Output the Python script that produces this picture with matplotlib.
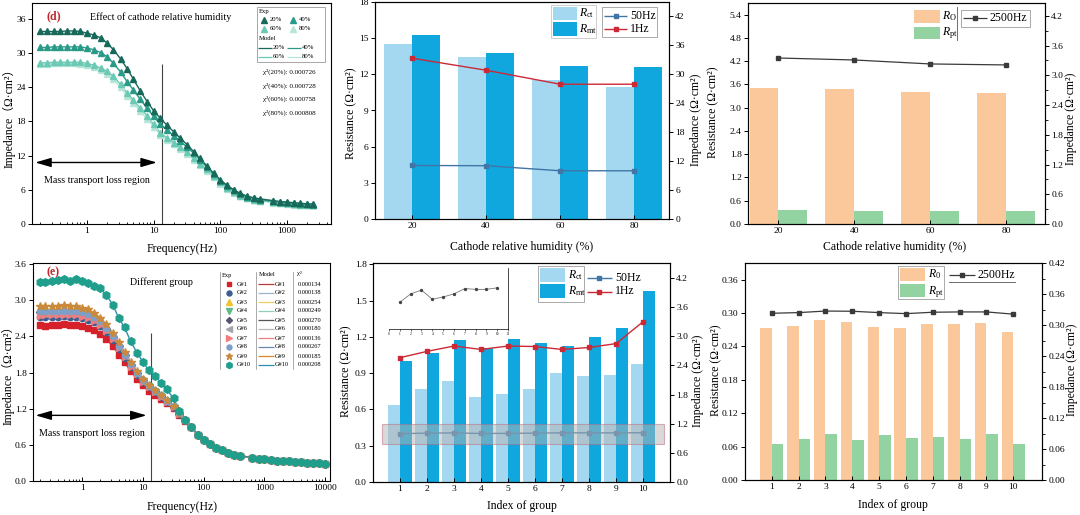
import numpy as np
import matplotlib
matplotlib.use('Agg')
import matplotlib.pyplot as plt
from matplotlib.patches import Rectangle
from matplotlib.ticker import MultipleLocator, FormatStrFormatter, LogLocator, NullFormatter

plt.rcParams['font.family'] = ['Liberation Serif', 'Noto Sans CJK SC']
plt.rcParams['mathtext.fontset'] = 'custom'
plt.rcParams['mathtext.rm'] = 'Liberation Serif'
plt.rcParams['mathtext.it'] = 'Liberation Serif:italic'
plt.rcParams['axes.linewidth'] = 0.8

# ---------------- data: panel (d) ----------------
freq_d = [0.2, 0.25, 0.32, 0.4, 0.5, 0.63, 0.8, 1.0, 1.26, 1.6, 2.0, 2.5, 3.2, 4.0, 5.0, 6.3, 8.0,
          10, 12.6, 16, 20, 25, 32, 40, 50, 63, 80, 100, 126, 160, 200, 250, 320, 400, 630, 800,
          1000, 1260, 1600, 2000, 2500]
rh_labels = ['20%', '40%', '60%', '80%']
Zd_20 = [33.8, 33.8, 33.8, 33.8, 33.9, 33.9, 33.8, 33.5, 33.2, 32.7, 31.8, 30.6, 29.0, 27.3, 25.4, 23.4, 21.5,
         19.9, 18.6, 17.3, 16.2, 15.1, 13.9, 12.7, 11.5, 10.2, 8.9, 7.8, 6.8, 6.0, 5.4, 4.9, 4.6, 4.4, 4.1, 3.95,
         3.85, 3.75, 3.65, 3.55, 3.5]
Zd_40 = [31.0, 31.0, 31.1, 31.1, 31.1, 31.1, 31.1, 30.9, 30.6, 30.1, 29.4, 28.2, 26.7, 25.0, 23.5, 21.9, 20.3,
         18.9, 17.5, 16.5, 15.5, 14.5, 13.5, 12.4, 11.2, 10.0, 8.7, 7.6, 6.7, 5.9, 5.3, 4.8, 4.5, 4.3, 4.0, 3.85,
         3.75, 3.6, 3.5, 3.45, 3.4]
Zd_60 = [28.3, 28.3, 28.4, 28.4, 28.4, 28.4, 28.4, 28.2, 27.9, 27.4, 26.8, 25.9, 24.5, 23.0, 21.7, 20.3, 19.0,
         17.5, 16.0, 15.1, 14.3, 13.5, 12.6, 11.6, 10.6, 9.6, 8.4, 7.3, 6.4, 5.6, 5.0, 4.6, 4.3, 4.1, 3.85, 3.7,
         3.6, 3.5, 3.4, 3.35, 3.3]
Zd_80 = [28.1, 28.1, 28.2, 28.2, 28.2, 28.2, 28.1, 27.9, 27.6, 27.0, 26.3, 25.4, 24.0, 22.5, 21.2, 19.8, 18.5,
         17.1, 15.7, 14.8, 14.0, 13.2, 12.3, 11.3, 10.4, 9.3, 8.2, 7.1, 6.2, 5.5, 4.9, 4.5, 4.2, 4.0, 3.75, 3.6,
         3.5, 3.4, 3.35, 3.3, 3.25]
chi2_d = ['0.000726', '0.000728', '0.000758', '0.000808']

# ---------------- data: panel (e) ----------------
freq_e = [0.2, 0.25, 0.32, 0.4, 0.5, 0.63, 0.8, 1.0, 1.26, 1.6, 2.0, 2.5, 3.2, 4.0, 5.0, 6.3, 8.0,
          10, 12.6, 16, 20, 25, 32, 40, 50, 63, 80, 100, 126, 160, 200, 250, 320, 400, 630, 800,
          1000, 1260, 1600, 2000, 2500, 3200, 4000, 5000, 6300, 8000, 10000]
group_labels = ['G#1', 'G#2', 'G#3', 'G#4', 'G#5', 'G#6', 'G#7', 'G#8', 'G#9', 'G#10']
chi2_e = ['0.000134', '0.000138', '0.000254', '0.000249', '0.000270', '0.000180', '0.000136',
          '0.000267', '0.000185', '0.000208']
# values read where the ten curves coincide (f > 50 Hz)
Ze_tail = [0.89, 0.77, 0.68, 0.61, 0.55, 0.51, 0.47, 0.44, 0.42, 0.385, 0.37,
           0.36, 0.35, 0.34, 0.33, 0.325, 0.315, 0.31, 0.305, 0.30, 0.295, 0.29]
Ze_head = [
    [2.59, 2.58, 2.59, 2.59, 2.60, 2.59, 2.59, 2.58, 2.54, 2.50, 2.44, 2.36, 2.24, 2.10, 1.97, 1.83, 1.70, 1.59, 1.50, 1.43, 1.36, 1.29, 1.21, 1.10, 1.00],
    [2.72, 2.73, 2.73, 2.73, 2.74, 2.73, 2.73, 2.71, 2.68, 2.64, 2.57, 2.47, 2.34, 2.19, 2.04, 1.89, 1.76, 1.64, 1.56, 1.48, 1.40, 1.32, 1.23, 1.12, 1.01],
    [2.85, 2.86, 2.86, 2.86, 2.87, 2.86, 2.86, 2.84, 2.81, 2.76, 2.68, 2.57, 2.43, 2.27, 2.11, 1.95, 1.80, 1.68, 1.58, 1.50, 1.42, 1.33, 1.24, 1.13, 1.01],
    [2.78, 2.79, 2.79, 2.79, 2.80, 2.79, 2.79, 2.77, 2.74, 2.69, 2.62, 2.51, 2.38, 2.23, 2.08, 1.92, 1.78, 1.66, 1.57, 1.49, 1.41, 1.33, 1.23, 1.12, 1.01],
    [2.80, 2.80, 2.81, 2.81, 2.81, 2.81, 2.80, 2.78, 2.75, 2.70, 2.63, 2.52, 2.39, 2.24, 2.09, 1.93, 1.79, 1.67, 1.57, 1.49, 1.41, 1.33, 1.23, 1.12, 1.01],
    [2.76, 2.77, 2.77, 2.77, 2.78, 2.77, 2.77, 2.75, 2.72, 2.67, 2.60, 2.50, 2.37, 2.22, 2.07, 1.91, 1.77, 1.65, 1.56, 1.48, 1.40, 1.32, 1.23, 1.12, 1.01],
    [2.74, 2.75, 2.75, 2.75, 2.76, 2.75, 2.75, 2.73, 2.70, 2.66, 2.59, 2.49, 2.36, 2.21, 2.06, 1.90, 1.77, 1.65, 1.56, 1.48, 1.40, 1.32, 1.23, 1.12, 1.01],
    [2.82, 2.82, 2.82, 2.83, 2.83, 2.83, 2.82, 2.80, 2.77, 2.72, 2.65, 2.54, 2.41, 2.25, 2.10, 1.94, 1.80, 1.68, 1.58, 1.50, 1.42, 1.33, 1.24, 1.13, 1.01],
    [2.90, 2.91, 2.91, 2.91, 2.92, 2.91, 2.90, 2.88, 2.85, 2.79, 2.71, 2.60, 2.46, 2.30, 2.14, 1.97, 1.82, 1.70, 1.60, 1.51, 1.43, 1.34, 1.25, 1.13, 1.01],
    [3.30, 3.31, 3.32, 3.33, 3.36, 3.32, 3.35, 3.32, 3.28, 3.24, 3.20, 3.09, 2.93, 2.71, 2.55, 2.32, 2.13, 1.98, 1.84, 1.74, 1.63, 1.52, 1.37, 1.16, 1.01],
]

# ---------------- data: bar panels ----------------
humidity = [20, 40, 60, 80]
R_ct_rh = [14.5, 13.45, 11.55, 10.95]
R_mt_rh = [15.25, 13.78, 12.7, 12.62]
Z1Hz_rh = [33.35, 30.85, 27.95, 27.95]
Z50Hz_rh = [11.1, 11.05, 10.0, 10.0]
R_o_rh = [3.52, 3.48, 3.41, 3.38]
R_pt_rh = [0.36, 0.335, 0.333, 0.333]
Z2500_rh = [3.35, 3.31, 3.23, 3.21]

groups = [1, 2, 3, 4, 5, 6, 7, 8, 9, 10]
R_ct_g = [0.64, 0.77, 0.835, 0.70, 0.73, 0.765, 0.90, 0.875, 0.885, 0.975]
R_mt_g = [1.0, 1.065, 1.17, 1.11, 1.18, 1.15, 1.12, 1.2, 1.27, 1.58]
Z1Hz_g = [2.56, 2.69, 2.80, 2.73, 2.80, 2.79, 2.73, 2.77, 2.85, 3.30]
Z50Hz_g = [0.995, 1.006, 1.011, 0.999, 1.002, 1.006, 1.013, 1.012, 1.012, 1.014]
R_o_g = [0.274, 0.277, 0.288, 0.284, 0.275, 0.274, 0.280, 0.281, 0.282, 0.266]
R_pt_g = [0.064, 0.074, 0.083, 0.072, 0.081, 0.075, 0.078, 0.074, 0.082, 0.064]
Z2500_g = [0.3227, 0.324, 0.327, 0.3266, 0.324, 0.322, 0.3247, 0.3253, 0.3253, 0.321]

# ---------------- styles ----------------
colors_d = ['#17695a', '#2a9a88', '#6ccab4', '#b6e6d9']
colors_e = ['#d6202a', '#3d5e92', '#f0c230', '#5dbb8c', '#5a5470', '#a3a3ab', '#f17c7c', '#7d9fc8', '#c98a3c', '#1f9e8c']
lines_e = ['#b83a3a', '#9fb4cc', '#ecd060', '#8fd0b4', '#555555', '#b8b8b8', '#e88080', '#6d88aa', '#d9892a', '#2c8fb0']
markers_e = ['s', 'o', '^', 'v', 'D', '<', '>', 'o', '*', 'h']
msize_e = [4.2, 4.5, 4.6, 4.6, 3.8, 4.6, 4.6, 4.5, 6.0, 5.5]
c_ct, c_mt = '#a4d8f0', '#10a6de'
c_o, c_pt = '#fbc89c', '#93d3a2'
c_50, c_1 = '#3f76a6', '#cc2936'
c_2500 = '#3a3a3a'

W, H = 1080, 515
fig = plt.figure(figsize=(W / 100, H / 100), dpi=100)
TICK = 6.8
LAB = 8.5


def add_ax(x0, y0, x1, y1, **kw):
    return fig.add_axes([x0 / W, 1 - y1 / H, (x1 - x0) / W, (y1 - y0) / H], **kw)


def frac(ax, px, py):
    bb = ax.get_position()
    x0, x1 = bb.x0 * W, bb.x1 * W
    yt, yb = (1 - bb.y1) * H, (1 - bb.y0) * H
    return (px - x0) / (x1 - x0), (yb - py) / (yb - yt)


def xlab(ax, text, px, py):
    ax.set_xlabel(text, fontsize=LAB)
    fx, fy = frac(ax, px, py)
    ax.xaxis.set_label_coords(fx, fy)
    ax.xaxis.label.set_va('center')


def ylab(ax, text, px, py):
    ax.set_ylabel(text, fontsize=LAB)
    fx, fy = frac(ax, px, py)
    ax.yaxis.set_label_coords(fx, fy)
    ax.yaxis.label.set_va('center')
    ax.yaxis.label.set_ha('center')


def style(ax):
    ax.tick_params(axis='both', labelsize=TICK, length=3, width=0.7, pad=2.5)
    ax.tick_params(axis='x', direction='in')
    ax.tick_params(axis='y', direction='out', pad=1.5)


# ---------------- (d) ----------------
axd = add_ax(32, 3, 331, 224)
for vals, col in reversed(list(zip([Zd_20, Zd_40, Zd_60, Zd_80], colors_d))):
    axd.plot(freq_d, vals, color=col, lw=1.0, zorder=2)
    axd.plot(freq_d, vals, ls='none', marker='^', ms=4.6, color=col, zorder=3)
axd.set_xscale('log')
axd.set_xlim(0.15, 4600)
axd.set_ylim(0, 38.8)
axd.set_xticks([1, 10, 100, 1000])
axd.set_xticklabels(['1', '10', '100', '1000'])
axd.xaxis.set_minor_locator(LogLocator(base=10, subs=np.arange(2, 10)))
axd.xaxis.set_minor_formatter(NullFormatter())
axd.yaxis.set_major_locator(MultipleLocator(6))
style(axd)
axd.tick_params(axis='x', which='minor', direction='in', length=1.8)
axd.vlines(13.6, 0, 28.1, color='#444444', lw=0.8)
axd.annotate('', xy=(11.2, 10.8), xytext=(0.168, 10.8),
             arrowprops=dict(arrowstyle='<|-|>,head_length=1.2,head_width=0.35', color='k', lw=1.0,
                             mutation_scale=8, shrinkA=0, shrinkB=0))
axd.text(1.4, 7.6, 'Mass transport loss region', fontsize=7.2, ha='center', va='center')
axd.text(0.32, 36.5, '(d)', fontsize=8.5, color='#c0282d', fontweight='bold', ha='center', va='center')
axd.text(1.1, 36.4, 'Effect of cathode relative humidity', fontsize=7.2, ha='left', va='center')
xlab(axd, 'Frequency(Hz)', 182, 249)
ylab(axd, 'Impedance（Ω·cm²）', 9, 115)

# ---------------- (e) ----------------
axe = add_ax(33, 263, 330, 481)
for i in range(10):
    vals = Ze_head[i] + Ze_tail
    axe.plot(freq_e, vals, color=lines_e[i], lw=1.0, zorder=2 + i * 0.01)
for i in range(10):
    vals = Ze_head[i] + Ze_tail
    axe.plot(freq_e, vals, ls='none', marker=markers_e[i], ms=msize_e[i], color=colors_e[i], zorder=3 + i * 0.01)
axe.set_xscale('log')
axe.set_xlim(0.156, 12000)
axe.set_ylim(0, 3.62)
axe.set_xticks([1, 10, 100, 1000, 10000])
axe.set_xticklabels(['1', '10', '100', '1000', '10000'])
axe.xaxis.set_minor_locator(LogLocator(base=10, subs=np.arange(2, 10)))
axe.xaxis.set_minor_formatter(NullFormatter())
axe.yaxis.set_major_locator(MultipleLocator(0.6))
axe.yaxis.set_major_formatter(FormatStrFormatter('%.1f'))
style(axe)
axe.tick_params(axis='x', which='minor', direction='in', length=1.8)
axe.vlines(13.4, 0, 2.45, color='#444444', lw=0.8)
axe.annotate('', xy=(11.5, 1.09), xytext=(0.172, 1.09),
             arrowprops=dict(arrowstyle='<|-|>,head_length=1.2,head_width=0.35', color='k', lw=1.0,
                             mutation_scale=8, shrinkA=0, shrinkB=0))
axe.text(1.43, 0.79, 'Mass transport loss region', fontsize=7.2, ha='center', va='center')
axe.text(0.33, 3.47, '(e)', fontsize=8.5, color='#c0282d', fontweight='bold', ha='center', va='center')
axe.text(6.1, 3.31, 'Different group', fontsize=7.2, ha='left', va='center')
xlab(axe, 'Frequency(Hz)', 182, 507)
ylab(axe, 'Impedance（Ω·cm²）', 8, 372)

# ---------------- top middle ----------------
axb = add_ax(375, 2, 669, 219)
wb = 7.6
axb.bar(humidity, R_ct_rh, width=-wb, align='edge', color=c_ct, zorder=1)
axb.bar(humidity, R_mt_rh, width=wb, align='edge', color=c_mt, zorder=1)
axb.set_xlim(10, 89.4)
axb.set_ylim(0, 18)
axb.set_xticks(humidity)
axb.yaxis.set_major_locator(MultipleLocator(3))
style(axb)
axb2 = axb.twinx()
axb2.plot(humidity, Z50Hz_rh, color=c_50, lw=1.0, marker='s', ms=3.5)
axb2.plot(humidity, Z1Hz_rh, color=c_1, lw=1.0, marker='s', ms=3.5)
axb2.set_ylim(0, 45)
axb2.yaxis.set_major_locator(MultipleLocator(6))
style(axb2)
xlab(axb, 'Cathode relative humidity (%)', 522, 247)
ylab(axb, 'Resistance (Ω·cm²)', 351, 113)
ylab(axb2, 'Impedance (Ω·cm²)', 696, 120)

# ---------------- top right ----------------
axc = add_ax(748, 3, 1045, 224)
axc.bar(humidity, R_o_rh, width=-wb, align='edge', color=c_o)
axc.bar(humidity, R_pt_rh, width=wb, align='edge', color=c_pt)
axc.set_xlim(12, 90.2)
axc.set_ylim(0, 5.7)
axc.set_xticks(humidity)
axc.yaxis.set_major_locator(MultipleLocator(0.6))
axc.yaxis.set_major_formatter(FormatStrFormatter('%.1f'))
style(axc)
axc2 = axc.twinx()
axc2.plot(humidity, Z2500_rh, color=c_2500, lw=0.9, marker='s', ms=3.5)
axc2.set_ylim(0, 4.46)
axc2.yaxis.set_major_locator(MultipleLocator(0.6))
axc2.yaxis.set_minor_locator(MultipleLocator(0.3))
axc2.yaxis.set_major_formatter(FormatStrFormatter('%.1f'))
style(axc2)
axc2.tick_params(axis='y', which='minor', length=1.8, direction='out')
xlab(axc, 'Cathode relative humidity (%)', 895, 247)
ylab(axc, 'Resistance (Ω·cm²)', 713, 112)
ylab(axc2, 'Impedance (Ω·cm²)', 1071, 119)

# ---------------- bottom middle ----------------
axg = add_ax(373, 263, 670, 482)
wg = 0.43
axg.bar(groups, R_ct_g, width=-wg, align='edge', color=c_ct)
axg.bar(groups, R_mt_g, width=wg, align='edge', color=c_mt)
axg.set_xlim(0, 11)
axg.set_ylim(0, 1.81)
axg.set_xticks(groups)
axg.yaxis.set_major_locator(MultipleLocator(0.3))
axg.yaxis.set_major_formatter(FormatStrFormatter('%.1f'))
style(axg)
axg2 = axg.twinx()
axg2.plot(groups, Z50Hz_g, color=c_50, lw=1.0, marker='s', ms=3.5)
axg2.plot(groups, Z1Hz_g, color=c_1, lw=1.0, marker='s', ms=3.5)
axg2.set_ylim(0, 4.51)
axg2.yaxis.set_major_locator(MultipleLocator(0.6))
axg2.yaxis.set_major_formatter(FormatStrFormatter('%.1f'))
style(axg2)
axg2.add_patch(Rectangle((0.32, 0.79), 10.46, 0.41, facecolor='#b4b4b4', alpha=0.5,
                         edgecolor='#c06878', lw=0.8, zorder=5))
xlab(axg, 'Index of group', 522, 506)
ylab(axg, 'Resistance (Ω·cm²)', 346, 371)
ylab(axg2, 'Impedance (Ω·cm²)', 698, 381)

# inset (zoom of 50 Hz line)
axi = add_ax(389, 268, 508, 329)
axi.plot(groups, Z50Hz_g, color='#777777', lw=0.6, marker='o', ms=1.4, mfc='#444444', mec='#444444')
axi.set_xlim(0, 11)
axi.set_ylim(0.96, 1.04)
axi.set_xticks(range(12))
axi.set_yticks([])
axi.tick_params(axis='x', labelsize=2.5, length=1.2, width=0.4, pad=1, direction='out')
axi.spines['left'].set_visible(False)
axi.spines['top'].set_visible(False)
axi.spines['bottom'].set_linewidth(0.5)
axi.spines['right'].set_linewidth(0.5)
axi.patch.set_alpha(0)

# ---------------- bottom right ----------------
axh = add_ax(745, 263, 1042, 480)
axh.bar(groups, R_o_g, width=-wg, align='edge', color=c_o)
axh.bar(groups, R_pt_g, width=wg, align='edge', color=c_pt)
axh.set_xlim(0, 11.07)
axh.set_ylim(0, 0.39)
axh.set_xticks(groups)
axh.yaxis.set_major_locator(MultipleLocator(0.06))
axh.yaxis.set_major_formatter(FormatStrFormatter('%.2f'))
style(axh)
axh2 = axh.twinx()
axh2.plot(groups, Z2500_g, color=c_2500, lw=0.9, marker='s', ms=3.5)
axh2.set_ylim(0, 0.42)
axh2.yaxis.set_major_locator(MultipleLocator(0.06))
axh2.yaxis.set_minor_locator(MultipleLocator(0.03))
axh2.yaxis.set_major_formatter(FormatStrFormatter('%.2f'))
style(axh2)
axh2.tick_params(axis='y', which='minor', length=1.8, direction='out')
xlab(axh, 'Index of group', 893, 505)
ylab(axh, 'Resistance (Ω·cm²)', 716, 370)
ylab(axh2, 'Impedance (Ω·cm²)', 1072, 370)

# ---------------- legends (overlay in pixel coordinates) ----------------
ov = fig.add_axes([0, 0, 1, 1], zorder=20)
ov.set_xlim(0, W)
ov.set_ylim(H, 0)
ov.axis('off')
ov.patch.set_alpha(0)


def otext(x, y, s, size, **kw):
    ov.text(x, y, s, fontsize=size, va='center', ha='left', **kw)


def orect(x0, y0, x1, y1, fc='none', ec='none', lw=0.5):
    ov.add_patch(Rectangle((x0, y0), x1 - x0, y1 - y0, facecolor=fc, edgecolor=ec, lw=lw))


def oline(x0, x1, y, color, lw=1.0, marker=None, ms=3.5, **kw):
    ov.plot([x0, x1], [y, y], color=color, lw=lw, solid_capstyle='butt')
    if marker:
        ov.plot([(x0 + x1) / 2], [y], marker=marker, color=color, ms=ms, ls='none', **kw)


def omark(x, y, marker, color, ms):
    ov.plot([x], [y], marker=marker, color=color, ms=ms, ls='none')


# (d) legend
orect(257, 7, 325, 62, ec='#999999', lw=0.6)
otext(258.5, 11, 'Exp', 4.8)
for k, (xm, yr) in enumerate([(264, 19.5), (293, 19.5), (264, 29), (293, 29)]):
    omark(xm, yr, '^', colors_d[k], 4.2)
    otext(xm + 6, yr, rh_labels[k], 4.8)
otext(258.5, 38, 'Model', 4.8)
for k, (xs, yr) in enumerate([(258, 47.5), (286.5, 47.5), (258, 56.5), (286.5, 56.5)]):
    oline(xs, xs + 14, yr, colors_d[k], lw=0.9)
    otext(xs + 15, yr, rh_labels[k], 4.8)
for k in range(4):
    otext(263, 72 + k * 13.6, 'χ²(' + rh_labels[k] + '): ' + chi2_d[k], 5.0)

# (e) legend
for xv in [220, 256, 292.7]:
    ov.plot([xv, xv], [271.5, 368.5], color='#888888', lw=0.5)
otext(221.5, 275, 'Exp', 4.6)
otext(258.3, 275, 'Model', 4.6)
otext(297.3, 274, 'χ²', 4.6)
for i in range(10):
    yr = 284 + i * 9.0
    omark(229.3, yr, markers_e[i], colors_e[i], msize_e[i] * 0.8)
    otext(236.5, yr, group_labels[i], 4.6)
    oline(258.3, 273.5, yr, lines_e[i], lw=0.9)
    otext(274.5, yr, group_labels[i], 4.6)
    otext(297.3, yr, chi2_e[i], 4.6)

# top-middle legend
orect(551, 5, 596, 38, ec='#bbbbbb', lw=0.5)
orect(553, 7.3, 577, 19.5, fc=c_ct)
otext(579, 13.5, r'$R_{\rm ct}$', 8.5)
orect(553, 21.7, 577, 36, fc=c_mt)
otext(579, 29, r'$R_{\rm mt}$', 8.5)
orect(601.7, 7.3, 656.7, 36.7, ec='#888888', lw=0.5)
oline(604, 627, 15.7, c_50, marker='s')
otext(630, 15.7, '50Hz', 8.5)
oline(604, 627, 29.3, c_1, marker='s')
otext(630, 29.3, '1Hz', 8.5)

# top-right legend
orect(914, 10, 940, 22.7, fc=c_o)
otext(942.5, 16, r'$R_{\rm O}$', 8.5)
orect(914, 26.7, 940, 39.3, fc=c_pt)
otext(942.5, 33, r'$R_{\rm pt}$', 8.5)
ov.plot([957.3, 957.3], [7.3, 40], color='#555555', lw=0.6)
orect(960.7, 10, 1030, 26.7, ec='#888888', lw=0.5)
oline(962.7, 986.7, 18.3, c_2500, lw=0.9, marker='s')
otext(990, 18.3, '2500Hz', 8.5)

# bottom-middle legend
orect(538.3, 266, 584.3, 301.7, ec='#888888', lw=0.5)
orect(540, 268.3, 565, 281.7, fc=c_ct)
otext(567.5, 275, r'$R_{\rm ct}$', 8.5)
orect(540, 284.3, 565, 298.3, fc=c_mt)
otext(567.5, 291.3, r'$R_{\rm mt}$', 8.5)
oline(586.7, 611.7, 278.3, c_50, marker='s')
otext(615, 278.3, '50Hz', 8.5)
oline(586.7, 611.7, 291.5, c_1, marker='s')
otext(615, 291.5, '1Hz', 8.5)

# bottom-right legend
orect(898.3, 266, 944, 299, ec='#888888', lw=0.5)
orect(900, 267.7, 925, 281, fc=c_o)
otext(927.5, 274.3, r'$R_{\rm 0}$', 8.5)
orect(900, 284.3, 925, 296.7, fc=c_pt)
otext(927.5, 291.7, r'$R_{\rm pt}$', 8.5)
oline(949.3, 975, 275, c_2500, lw=0.9, marker='s')
otext(978, 275, '2500Hz', 8.5)
ov.plot([949, 1015], [282, 282], color='#555555', lw=0.6)

fig.savefig('out.png', dpi=100)
